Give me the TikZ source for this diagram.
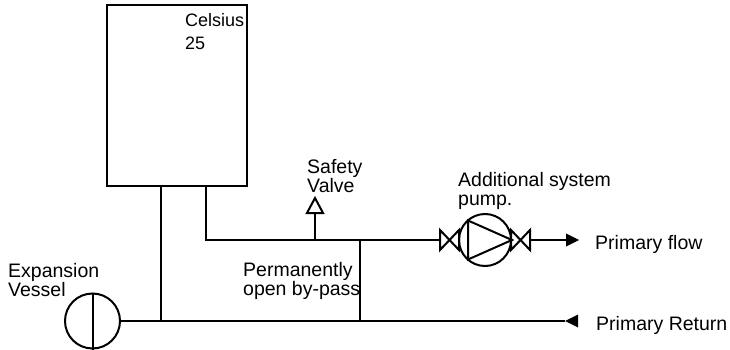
\documentclass[tikz,border=0pt]{standalone}
\usepackage{fontspec}
\setmainfont{Liberation Sans}
\begin{document}
\begin{tikzpicture}[x=1pt,y=-1pt,
  pipe/.style={line width=2pt},
  lbl/.style={anchor=base west,inner sep=0pt,align=left,font=\fontsize{19.5}{19}\selectfont},
  valvebox/.style={minimum width=19pt,minimum height=20pt,inner sep=0pt,outer sep=0pt},
  head/.style={fill=black}]
\useasboundingbox (0,0) rectangle (730,350);
% boiler
\node[draw,pipe,minimum width=140pt,minimum height=181pt,inner sep=0pt] (boiler) at (177,95.5) {};
\node[lbl,font=\fontsize{18}{23}\selectfont] (celsius) at (185,50) {Celsius\\25};
% junctions
\coordinate (bL) at (161,186);
\coordinate (bR) at (206,186);
\coordinate (cR) at (206,240);
\coordinate (jS) at (315,240);
\coordinate (jB) at (360,240);
\coordinate (jL) at (161,321);
\coordinate (rB) at (360,321);
\coordinate (retTip) at (565,321);
\coordinate (flowBase) at (566,240);
% expansion vessel
\node[draw,pipe,circle,minimum size=55pt,inner sep=0pt] (vessel) at (92.5,321) {};
\draw[pipe] (vessel.north) -- (vessel.south);
% valves and pump
\node[valvebox] (v1) at (449.5,240) {};
\draw[pipe,line join=miter] (v1.north west) -- (v1.south east) -- (v1.north east) -- (v1.south west) -- cycle;
\node[draw,pipe,circle,minimum size=52pt,inner sep=0pt] (pump) at (485,240) {};
\draw[pipe,line join=miter] (468,220.5) -- (pump.east) -- (468,259.5) -- cycle;
\node[valvebox] (v2) at (520.5,240) {};
\draw[pipe,line join=miter] (v2.north west) -- (v2.south east) -- (v2.north east) -- (v2.south west) -- cycle;
% safety valve
\node[minimum width=16pt,minimum height=15pt,inner sep=0pt,outer sep=0pt] (safety) at (315,205.5) {};
\draw[pipe,line join=miter] (safety.south west) -- (safety.south east) -- (safety.north) -- cycle;
% pipes
\draw[pipe] (bL) -- (jL);
\draw[pipe] (bR) -- (cR) -- (v1.west);
\draw[pipe] (safety.south) -- (jS);
\draw[pipe] (jB) -- (rB);
\draw[pipe] (vessel.east) -- (retTip);
\fill[head] (retTip) -- ++(13,-6.5) -- ++(0,13) -- cycle;
\draw[pipe] (v2.east) -- (flowBase);
\fill[head] (flowBase) ++(13,0) -- ++(-13,-6.5) -- ++(0,13) -- cycle;
% labels
\node[lbl] (lsafe) at (307,192) {Safety\\Valve};
\node[lbl] (lpump) at (458,205) {Additional system\\pump.};
\node[lbl] (lflow) at (595,249) {Primary flow};
\node[lbl] (lret) at (596,330) {Primary Return};
\node[lbl] (lby) at (243,295) {Permanently\\open by-pass};
\node[lbl] (lexp) at (8,296) {Expansion\\Vessel};
\end{tikzpicture}
\end{document}
